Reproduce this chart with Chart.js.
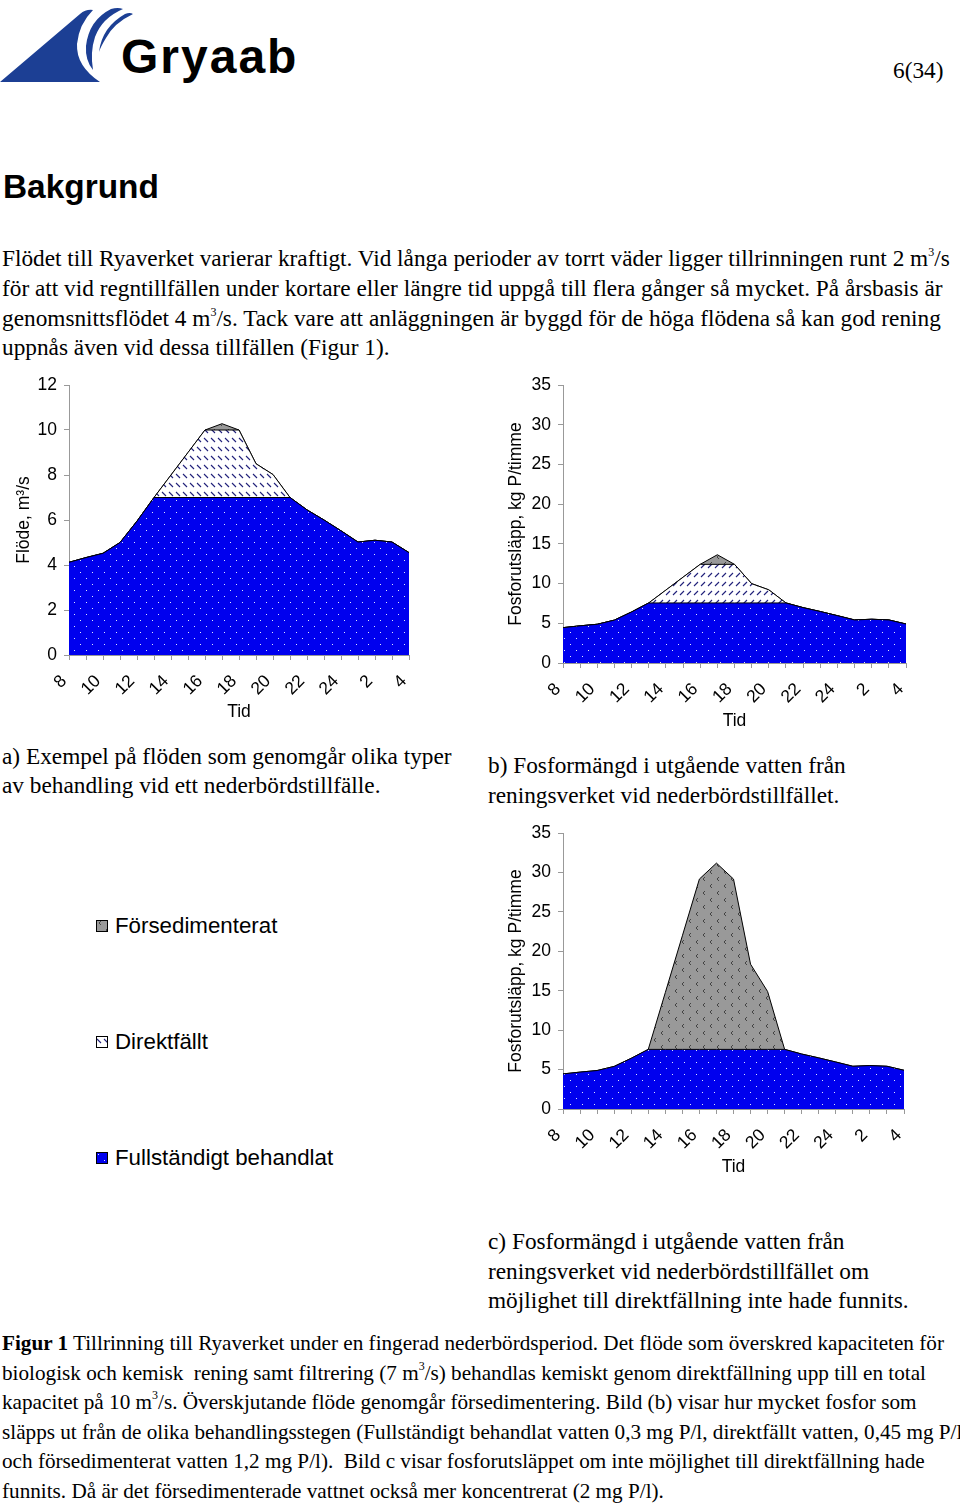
<!DOCTYPE html>
<html>
<head>
<meta charset="utf-8">
<script src="https://cdn.jsdelivr.net/npm/chart.js@4.4.1/dist/chart.umd.min.js"></script>
<style>
  body { margin: 0; background: #fff; width: 960px; height: 1505px; position: relative; overflow: hidden; }
  .t { position: absolute; white-space: nowrap; font-family: "Liberation Serif", "Times New Roman", serif; color: #000; }
  .p { font-size: 23.3px; line-height: 30px; }
  .cap { font-size: 21.2px; line-height: 30px; }
  sup { font-size: 12px; vertical-align: 10px; line-height: 0; }
  .s { font-family: "Liberation Sans", Arial, sans-serif; }
  canvas { position: absolute; }
  .leg { position: absolute; font-family: "Liberation Sans", Arial, sans-serif; font-size: 22.3px; line-height: 24px; white-space: nowrap; }
  .leg canvas { position: absolute; left: -19px; top: 6px; }
</style>
</head>
<body>

<svg style="position:absolute;left:0;top:0" width="320" height="100">
  <path d="M0,82 L80,14 Q86,9 93,10 Q79,24 77,44 Q76,66 100,82 Z" fill="#1c3f94"/>
  <path d="M86,46 Q89,20 111,9 Q118,7 123,9 Q102,18 95,37 Q90,52 93,70 Q85,60 86,46 Z" fill="#1c3f94"/>
  <path d="M99,52 Q102,27 125,14 Q130,12 133,14 Q114,23 106,38 Q101,46 99,52 Z" fill="#1c3f94"/>
  <text x="121" y="73" font-family="Liberation Sans, Arial, sans-serif" font-weight="bold" font-size="48" letter-spacing="2" fill="#000">Gryaab</text>
</svg>

<div class="t" style="left:893px;top:56px;font-size:23.3px;line-height:28px;">6(34)</div>

<div class="t s" style="left:3px;top:168px;font-size:33.4px;line-height:38px;font-weight:bold;">Bakgrund</div>

<div class="t p" style="left:2px;top:243px;">Flödet till Ryaverket varierar kraftigt. Vid långa perioder av torrt väder ligger tillrinningen runt 2 m<sup>3</sup>/s</div>
<div class="t p" style="left:2px;top:273px;">för att vid regntillfällen under kortare eller längre tid uppgå till flera gånger så mycket. På årsbasis är</div>
<div class="t p" style="left:2px;top:303px;">genomsnittsflödet 4 m<sup>3</sup>/s. Tack vare att anläggningen är byggd för de höga flödena så kan god rening</div>
<div class="t p" style="left:2px;top:332px;">uppnås även vid dessa tillfällen (Figur 1).</div>

<canvas id="chartA" width="420" height="360" style="left:0;top:372px;"></canvas>
<canvas id="chartB" width="430" height="370" style="left:490px;top:372px;"></canvas>
<canvas id="chartC" width="430" height="370" style="left:490px;top:820px;"></canvas>

<div class="t p" style="left:2px;top:741px;">a) Exempel på flöden som genomgår olika typer</div>
<div class="t p" style="left:2px;top:770px;">av behandling vid ett nederbördstillfälle.</div>

<div class="t p" style="left:488px;top:750px;">b) Fosformängd i utgående vatten från</div>
<div class="t p" style="left:488px;top:780px;">reningsverket vid nederbördstillfället.</div>

<div class="leg" style="left:115px;top:914px;"><canvas id="legP" width="12" height="12"></canvas>Försedimenterat</div>
<div class="leg" style="left:115px;top:1030px;"><canvas id="legD" width="12" height="12"></canvas>Direktfällt</div>
<div class="leg" style="left:115px;top:1146px;"><canvas id="legF" width="12" height="12"></canvas>Fullständigt behandlat</div>

<div class="t p" style="left:488px;top:1226px;">c) Fosformängd i utgående vatten från</div>
<div class="t p" style="left:488px;top:1256px;">reningsverket vid nederbördstillfället om</div>
<div class="t p" style="left:488px;top:1285px;">möjlighet till direktfällning inte hade funnits.</div>

<div class="t cap" style="left:2px;top:1328px;"><b>Figur 1</b> Tillrinning till Ryaverket under en fingerad nederbördsperiod. Det flöde som överskred kapaciteten för</div>
<div class="t cap" style="left:2px;top:1358px;">biologisk och kemisk&nbsp; rening samt filtrering (7 m<sup>3</sup>/s) behandlas kemiskt genom direktfällning upp till en total</div>
<div class="t cap" style="left:2px;top:1387px;">kapacitet på 10 m<sup>3</sup>/s. Överskjutande flöde genomgår försedimentering. Bild (b) visar hur mycket fosfor som</div>
<div class="t cap" style="left:2px;top:1417px;">släpps ut från de olika behandlingsstegen (Fullständigt behandlat vatten 0,3 mg P/l, direktfällt vatten, 0,45 mg P/l</div>
<div class="t cap" style="left:2px;top:1446px;">och försedimenterat vatten 1,2 mg P/l).&nbsp; Bild c visar fosforutsläppet om inte möjlighet till direktfällning hade</div>
<div class="t cap" style="left:2px;top:1476px;">funnits. Då är det försedimenterade vattnet också mer koncentrerat (2 mg P/l).</div>

<script>
// hours from 08 to 04 next morning
const hours = ['8','9','10','11','12','13','14','15','16','17','18','19','20','21','22','23','24','1','2','3','4'];

// a) flow, m3/s
const flowFull   = [4.12, 4.33, 4.52, 5.0, 5.95, 7, 7, 7, 7, 7, 7, 7, 7, 7, 6.45, 6.0, 5.52, 5.02, 5.1, 5.02, 4.55];
const flowDirect = [0, 0, 0, 0, 0, 0, 1.0, 2.0, 3.0, 3.0, 3.0, 1.5, 1.02, 0, 0, 0, 0, 0, 0, 0, 0];
const flowPresed = [0, 0, 0, 0, 0, 0, 0, 0, 0, 0.28, 0, 0, 0, 0, 0, 0, 0, 0, 0, 0, 0];

// b) phosphorus, kg P/timme
const phosFull    = [4.45, 4.68, 4.88, 5.4, 6.43, 7.56, 7.56, 7.56, 7.56, 7.56, 7.56, 7.56, 7.56, 7.56, 6.97, 6.48, 5.96, 5.42, 5.51, 5.42, 4.91];
const phosDirectB = [0, 0, 0, 0, 0, 0, 1.62, 3.24, 4.86, 4.86, 4.86, 2.43, 1.65, 0, 0, 0, 0, 0, 0, 0, 0];
const phosPresedB = [0, 0, 0, 0, 0, 0, 0, 0, 0, 1.21, 0, 0, 0, 0, 0, 0, 0, 0, 0, 0, 0];

// c) phosphorus without direktfällning
const phosPresedC = [0, 0, 0, 0, 0, 0, 7.2, 14.4, 21.6, 23.62, 21.6, 10.8, 7.34, 0, 0, 0, 0, 0, 0, 0, 0];

const BLUE = '#0000ee';
const GRAY = '#999999';
const FONT = '"Liberation Sans", Arial, sans-serif';
const FS = 17.5;

function tile(w, h, draw) {
    const c = document.createElement('canvas');
    c.width = w; c.height = h;
    draw(c.getContext('2d'));
    return c;
}

const fullTile = tile(12, 12, g => {
    g.fillStyle = BLUE; g.fillRect(0, 0, 12, 12);
    g.fillStyle = '#dfe4ff';
    g.fillRect(2, 2, 1, 1);
    g.fillRect(8, 8, 1, 1);
});
function directTile(flip) {
    return tile(7, 9, g => {
        g.fillStyle = '#fff'; g.fillRect(0, 0, 7, 9);
        g.strokeStyle = '#20207a'; g.lineWidth = 1.1;
        g.beginPath();
        if (flip) { g.moveTo(1, 7); g.lineTo(5, 3); }
        else { g.moveTo(1, 3); g.lineTo(5, 7); }
        g.stroke();
    });
}
const presedTile = tile(14, 14, g => {
    g.fillStyle = GRAY; g.fillRect(0, 0, 14, 14);
    g.strokeStyle = '#3a3a3a'; g.lineWidth = 0.9;
    g.beginPath();
    g.moveTo(5, 1); g.lineTo(3, 3); g.lineTo(5, 5);
    g.moveTo(12, 8); g.lineTo(10, 10); g.lineTo(12, 12);
    g.stroke();
});

function pat(ctx, t) { return ctx.createPattern(t, 'repeat'); }

function areaSet(label, data, bg, fill) {
    return {
        label: label,
        data: data,
        backgroundColor: bg,
        borderColor: '#000',
        borderWidth: 1,
        fill: fill,
        pointRadius: 0,
        tension: 0
    };
}

function makeChart(id, datasets, yMax, yStep, yTitle, geo) {
    const canvas = document.getElementById(id);
    const ctx = canvas.getContext('2d');
    return new Chart(ctx, {
        type: 'line',
        data: { labels: hours, datasets: datasets(ctx) },
        options: {
            responsive: false,
            animation: false,
            layout: { padding: 0 },
            plugins: { legend: { display: false }, tooltip: { enabled: false } },
            scales: {
                x: {
                    offset: false,
                    grid: { display: true, drawOnChartArea: false, drawTicks: true, tickLength: 5, color: '#999' },
                    border: { color: '#999' },
                    ticks: {
                        autoSkip: false, minRotation: 45, maxRotation: 45, padding: 11, labelOffset: -5,
                        color: '#000', font: { family: FONT, size: FS },
                        callback: function (v, i) { return i % 2 === 0 ? hours[i] : ''; }
                    },
                    title: { display: true, text: 'Tid', color: '#000', font: { family: FONT, size: FS }, padding: { top: 0, bottom: geo.tidPad } },
                    afterFit: function (s) {
                        s.height = geo.xh;
                        s.paddingLeft = 0;
                        s.paddingRight = geo.right;
                    }
                },
                y: {
                    stacked: true,
                    min: 0, max: yMax,
                    grid: { display: true, drawOnChartArea: false, drawTicks: true, tickLength: 5, color: '#999' },
                    border: { color: '#999' },
                    ticks: { stepSize: yStep, padding: 7, color: '#000', font: { family: FONT, size: FS } },
                    title: { display: true, text: yTitle, color: '#000', font: { family: FONT, size: FS }, padding: { top: geo.titlePad, bottom: 0 } },
                    afterFit: function (s) {
                        s.width = geo.yw;
                        s.paddingTop = geo.top;
                        s.paddingBottom = 0;
                    }
                }
            }
        }
    });
}

makeChart('chartA', ctx => [
    areaSet('Fullständigt behandlat', flowFull, pat(ctx, fullTile), 'origin'),
    areaSet('Direktfällt', flowDirect, pat(ctx, directTile(false)), '-1'),
    areaSet('Försedimenterat', flowPresed, pat(ctx, presedTile), '-1')
], 12, 2, 'Flöde, m³/s', { top: 13, right: 11, yw: 69, xh: 77, tidPad: 9, titlePad: 14 });

makeChart('chartB', ctx => [
    areaSet('Fullständigt behandlat', phosFull, pat(ctx, fullTile), 'origin'),
    areaSet('Direktfällt', phosDirectB, pat(ctx, directTile(true)), '-1'),
    areaSet('Försedimenterat', phosPresedB, pat(ctx, presedTile), '-1')
], 35, 5, 'Fosforutsläpp, kg P/timme', { top: 13, right: 14, yw: 73, xh: 79, tidPad: 10, titlePad: 16 });

makeChart('chartC', ctx => [
    areaSet('Fullständigt behandlat', phosFull, pat(ctx, fullTile), 'origin'),
    areaSet('Försedimenterat', phosPresedC, pat(ctx, presedTile), '-1')
], 35, 5, 'Fosforutsläpp, kg P/timme', { top: 13, right: 16, yw: 73, xh: 81, tidPad: 12, titlePad: 16 });

// legend swatches
[['legP', presedTile], ['legD', directTile(false)], ['legF', fullTile]].forEach(function (e) {
    const g = document.getElementById(e[0]).getContext('2d');
    g.fillStyle = g.createPattern(e[1], 'repeat');
    g.fillRect(0, 0, 12, 12);
    g.strokeStyle = '#000';
    g.strokeRect(0.5, 0.5, 11, 11);
});
</script>
</body>
</html>
